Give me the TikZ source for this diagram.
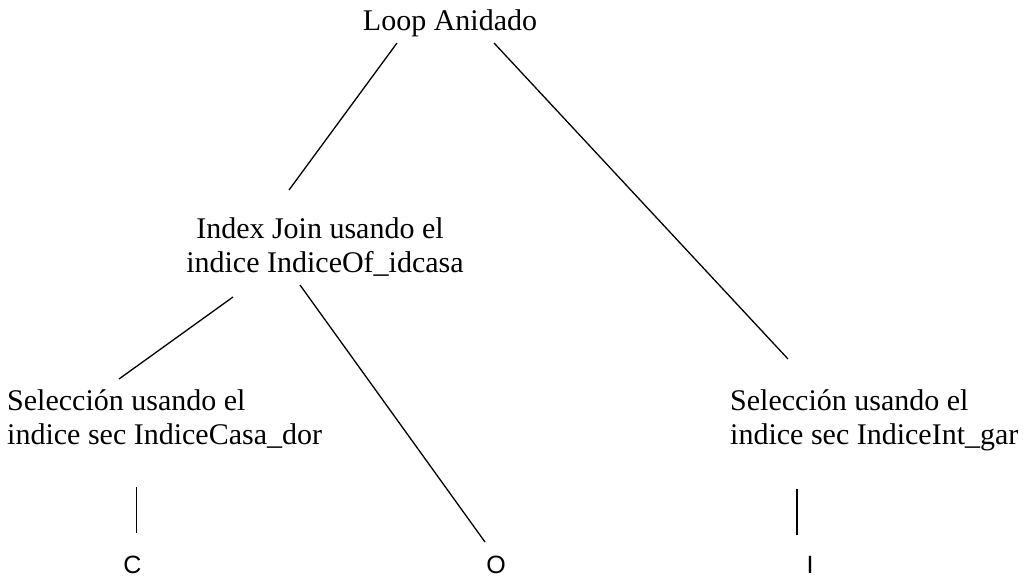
\documentclass[tikz,border=0pt]{standalone}
\usepackage{fontspec}
\setmainfont{Liberation Serif}
\newfontfamily\lsans{Liberation Sans}
\begin{document}
\begin{tikzpicture}[x=1pt,y=-1pt,
  lbl/.style={inner sep=0pt,font=\fontsize{30}{34}\selectfont,align=left,anchor=base west},
  ctr/.style={inner sep=0pt,font=\fontsize{30}{34}\selectfont,align=center,anchor=base},
  leaf/.style={inner sep=0pt,font=\lsans\fontsize{25}{28}\selectfont,anchor=base},
  edge/.style={draw=black,line width=1.3pt}]
\useasboundingbox[fill=white] (0,0) rectangle (1024,576);
\node[ctr] (root) at (450,30) {Loop Anidado};
\node[ctr] (ij) at (325,272) {Index Join usando el\hspace*{10pt}\\indice IndiceOf\_idcasa};
\node[lbl] (s1) at (7,444) {Selección usando el\\indice sec IndiceCasa\_dor};
\node[lbl] (s2) at (730,444) {Selección usando el\\indice sec IndiceInt\_gar};
\node[leaf] (c) at (132.5,573) {C};
\node[leaf] (o) at (496,573) {O};
\node[leaf] (i) at (810,573) {I};
\coordinate (a1) at (397,43); \coordinate (a2) at (289,190);
\coordinate (b1) at (494,43); \coordinate (b2) at (788,359);
\coordinate (d1) at (233,297); \coordinate (d2) at (119,379);
\coordinate (e1) at (300,285); \coordinate (e2) at (485,542);
\coordinate (f1) at (136.7,487); \coordinate (f2) at (136.7,533);
\coordinate (g1) at (797,489); \coordinate (g2) at (797,535);
\draw[edge] (a1)--(a2);
\draw[edge] (b1)--(b2);
\draw[edge] (d1)--(d2);
\draw[edge] (e1)--(e2);
\draw[edge] (f1)--(f2);
\draw[edge] (g1)--(g2);
\end{tikzpicture}
\end{document}
